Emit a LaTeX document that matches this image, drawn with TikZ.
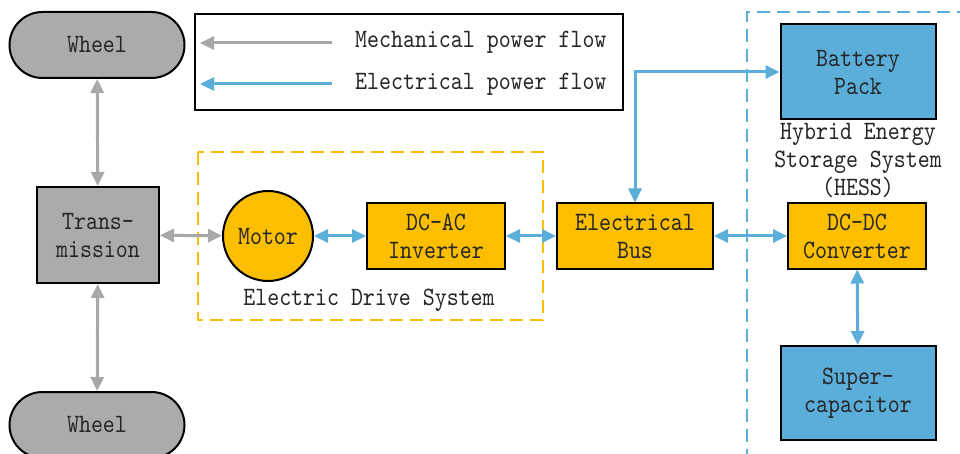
\documentclass[tikz,border=0pt]{standalone}
\usepackage{fontspec}
\setmainfont{lmmono10-regular.otf}[FakeStretch=0.86]
\usetikzlibrary{arrows.meta, positioning, shapes.misc}

\definecolor{hevgris}{HTML}{ABABAB}
\definecolor{hevjaune}{HTML}{FBBF00}
\definecolor{hevbleu}{HTML}{5BAEDA}
\definecolor{traitgris}{HTML}{A8A8A8}

\begin{document}
\begin{tikzpicture}[
  x=1pt, y=-1pt,
  font=\fontsize{26.5}{28}\selectfont,
  bloc/.style={
    draw=black,
    line width=2pt,
    align=center,
    inner sep=0pt,
    text=black!85
  },
  roue/.style={
    bloc,
    rounded rectangle,
    fill=hevgris,
    minimum width=175pt,
    minimum height=66pt
  },
  gris/.style={bloc, fill=hevgris},
  jaune/.style={bloc, fill=hevjaune},
  bleu/.style={bloc, fill=hevbleu},
  fleche/.style={
    {Triangle[length=14pt, width=13pt]}-{Triangle[length=14pt, width=13pt]},
    line width=3pt
  },
  mecanique/.style={fleche, draw=traitgris, color=traitgris},
  electrique/.style={fleche, draw=hevbleu, color=hevbleu},
  cadre/.style={line width=2.5pt, dash pattern=on 13pt off 7pt},
  etiquette/.style={align=center, text=black!85, inner sep=0pt}
]
  \useasboundingbox (0,0) rectangle (960,454);
  \clip (0,0) rectangle (960,454);

  % Cadres en pointillés
  \draw[cadre, draw=hevjaune] (198,152) rectangle (543,320);
  \draw[cadre, draw=hevbleu] (990,12) -- (747,12) -- (747,480);

  % Partie mécanique
  \node[roue] (roue1) at (97,45) {Wheel};
  \node[roue] (roue2) at (97,425) {Wheel};
  \node[gris, minimum width=122pt, minimum height=96pt] (trans) at (98,235) {Trans-\\mission};

  % Chaîne de traction électrique
  \node[jaune, circle, minimum size=90pt] (moteur) at (268,236) {Motor};
  \node[jaune, minimum width=138pt, minimum height=65pt] (ondul) at (436,236) {DC-AC\\Inverter};
  \node[jaune, minimum width=156pt, minimum height=65pt] (bus) at (635,236) {Electrical\\Bus};
  \node[etiquette] (eds) at (369,300) {Electric Drive System};

  % Stockage hybride
  \node[bleu, minimum width=155pt, minimum height=95pt] (batt) at (858,72) {Battery\\Pack};
  \node[jaune, minimum width=138pt, minimum height=65pt] (conv) at (857,236) {DC-DC\\Converter};
  \node[bleu, minimum width=155pt, minimum height=94pt] (scap) at (858,393) {Super-\\capacitor};
  \node[etiquette] (hess) at (858,160) {Hybrid Energy\\Storage System\\(HESS)};

  % Légende
  \node[draw=black, line width=2pt, minimum width=428pt, minimum height=96pt] (legende) at (409,62) {};
  \coordinate (m1) at (332,43);
  \coordinate (m2) at (200,43);
  \coordinate (e1) at (332,84);
  \coordinate (e2) at (200,84);
  \draw[mecanique, -{Triangle[length=14pt, width=13pt]}] (m1) -- (m2);
  \draw[electrique, -{Triangle[length=14pt, width=13pt]}] (e1) -- (e2);
  \node[etiquette, anchor=west] (lm) at (355,42) {Mechanical power flow};
  \node[etiquette, anchor=west] (le) at (355,84) {Electrical power flow};

  % Flux mécaniques
  \draw[mecanique] (roue1) -- (trans);
  \draw[mecanique] (trans) -- (roue2);
  \draw[mecanique] (trans) -- (moteur);

  % Flux électriques
  \draw[electrique] (moteur) -- (ondul);
  \draw[electrique] (ondul) -- (bus);
  \draw[electrique] (bus) -- (conv);
  \draw[electrique] (conv) -- (scap);
  \draw[electrique] (bus.north) |- (batt.west);
\end{tikzpicture}
\end{document}
